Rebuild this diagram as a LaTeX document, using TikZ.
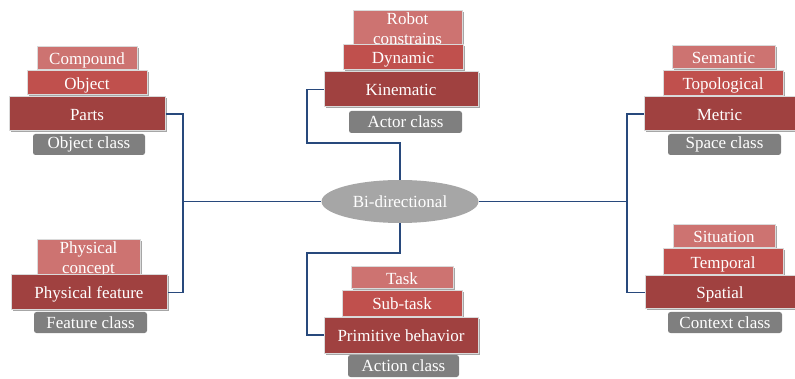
\documentclass[tikz,border=0pt]{standalone}
\usepackage{fontspec}
\setmainfont{Liberation Serif}
\usetikzlibrary{shadows,shapes.geometric}
\definecolor{lightred}{HTML}{CD7371}
\definecolor{midred}{HTML}{C0504D}
\definecolor{darkred}{HTML}{A04140}
\definecolor{classgray}{HTML}{7F7F7F}
\definecolor{ellgray}{HTML}{A6A6A6}
\definecolor{navy}{HTML}{28497C}
\definecolor{edge}{HTML}{DADADA}
\tikzset{
  lvlbase/.style={draw=edge, line width=1pt, text=white, inner sep=0pt, align=center,
    font=\fontsize{17}{20}\selectfont,
    drop shadow={shadow xshift=1.5pt, shadow yshift=-1.5pt, opacity=0.35, fill=black}},
  oneline/.style={text height=12.5pt, text depth=-1.5pt},
  lightbase/.style={lvlbase, fill=lightred},
  lightbox/.style={lvlbase, oneline, fill=lightred},
  midbox/.style={lvlbase, oneline, fill=midred},
  darkbox/.style={lvlbase, oneline, fill=darkred},
  classbox/.style={fill=classgray, rounded corners=2.5pt, text=white, inner sep=0pt,
    font=\fontsize{17}{20}\selectfont},
  hub/.style={ellipse, fill=ellgray, text=white, inner sep=0pt, font=\fontsize{17}{20}\selectfont},
  link/.style={draw=navy, line width=1.7pt}
}
\begin{document}
\begin{tikzpicture}[x=1pt,y=-1pt]
\useasboundingbox (0,0) rectangle (795,379);
% Object class
\node[lightbox, minimum width=100, minimum height=23] (compound) at (87,58.5) {Compound};
\node[midbox, minimum width=120, minimum height=24] (object) at (87,83) {Object};
\node[darkbox, minimum width=156, minimum height=34] (parts) at (87,114) {Parts};
\node[classbox, minimum width=112, minimum height=21] (objclass) at (89,144.5) {Object class};
% Actor class
\node[lightbase, minimum width=109, minimum height=35] (robot) at (407.5,28.5) {Robot\\constrains};
\node[midbox, minimum width=120, minimum height=25] (dynamic) at (403,57.5) {Dynamic};
\node[darkbox, minimum width=154, minimum height=35] (kinematic) at (401,89.5) {Kinematic};
\node[classbox, minimum width=113, minimum height=22] (actorclass) at (405.5,122) {Actor class};
% Space class
\node[lightbox, minimum width=103, minimum height=23] (semantic) at (723.5,57.5) {Semantic};
\node[midbox, minimum width=120, minimum height=25] (topological) at (723,83.5) {Topological};
\node[darkbox, minimum width=151, minimum height=34] (metric) at (719.5,114) {Metric};
\node[classbox, minimum width=113, minimum height=21] (spaceclass) at (724.5,144.5) {Space class};
% Feature class
\node[lightbase, minimum width=103, minimum height=38] (physconcept) at (88.5,259) {Physical\\concept};
\node[darkbox, minimum width=156, minimum height=35] (physfeature) at (89,292.5) {Physical feature};
\node[classbox, minimum width=113, minimum height=21] (featclass) at (90.5,322.5) {Feature class};
% Hub
\node[hub, minimum width=157, minimum height=43] (bi) at (400,201.5) {Bi-directional};
% Action class
\node[lightbox, minimum width=102, minimum height=22] (task) at (402,278) {Task};
\node[midbox, minimum width=120, minimum height=25] (subtask) at (402,303.5) {Sub-task};
\node[darkbox, minimum width=154, minimum height=36] (primitive) at (401,335) {Primitive behavior};
\node[classbox, minimum width=111, minimum height=22] (actionclass) at (403.5,366) {Action class};
% Context class
\node[lightbox, minimum width=102, minimum height=23] (situation) at (724,236.5) {Situation};
\node[midbox, minimum width=120, minimum height=26] (temporal) at (723,262) {Temporal};
\node[darkbox, minimum width=150, minimum height=33] (spatial) at (720,292.5) {Spatial};
\node[classbox, minimum width=114, minimum height=21] (contextclass) at (725,322.5) {Context class};
% Connectors
\coordinate (lj) at (183,201.5);
\coordinate (rj) at (627,201.5);
\coordinate (tj) at (307,143);
\coordinate (bj) at (307,253);
\draw[link] (parts.east) -| (lj) |- (physfeature.east);
\draw[link] (lj) -- (bi.west);
\draw[link] (metric.west) -| (rj) |- (spatial.west);
\draw[link] (bi.east) -- (rj);
\draw[link] (kinematic.west) -| (tj) -| (bi.north);
\draw[link] (bi.south) |- (bj) |- (primitive.west);
\end{tikzpicture}
\end{document}
